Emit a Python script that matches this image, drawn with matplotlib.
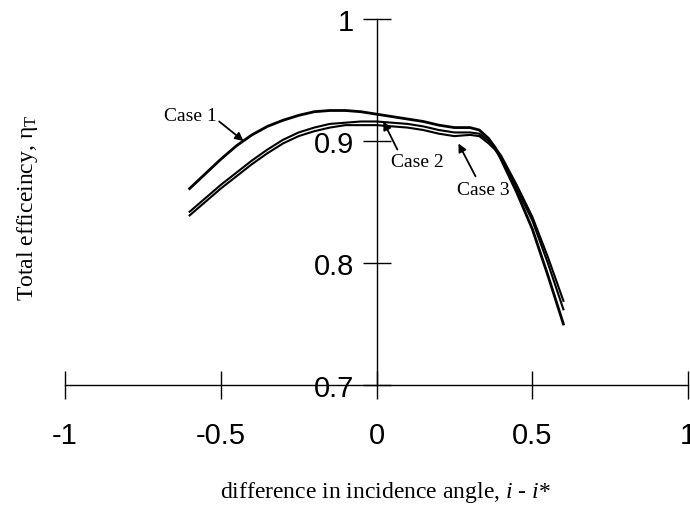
import matplotlib
matplotlib.use("Agg")
import matplotlib.pyplot as plt

# incidence-angle difference (i - i*) and total efficiency for each case
angle = [-0.6, -0.55, -0.5, -0.45, -0.4, -0.35, -0.3, -0.25, -0.2, -0.15,
         -0.1, -0.05, 0.0, 0.05, 0.1, 0.15, 0.2, 0.25, 0.3, 0.33, 0.36,
         0.38, 0.4, 0.45, 0.5, 0.55, 0.6]
case1 = [0.861, 0.873, 0.885, 0.896, 0.905, 0.912, 0.917, 0.921, 0.924,
         0.925, 0.925, 0.924, 0.922, 0.920, 0.918, 0.916, 0.913, 0.911,
         0.911, 0.909, 0.902, 0.895, 0.885, 0.858, 0.828, 0.790, 0.750]
case2 = [0.842, 0.853, 0.864, 0.874, 0.884, 0.893, 0.901, 0.907, 0.911,
         0.914, 0.915, 0.916, 0.916, 0.915, 0.914, 0.912, 0.909, 0.907,
         0.907, 0.906, 0.900, 0.895, 0.888, 0.864, 0.838, 0.805, 0.769]
case3 = [0.839, 0.850, 0.861, 0.871, 0.881, 0.890, 0.898, 0.904, 0.908,
         0.911, 0.913, 0.913, 0.913, 0.912, 0.911, 0.909, 0.906, 0.904,
         0.905, 0.904, 0.898, 0.893, 0.886, 0.861, 0.835, 0.800, 0.762]

x_ticks = [-1, -0.5, 0, 0.5, 1]
x_tick_labels = ["-1", "-0.5", "0", "0.5", "1"]
y_ticks = [0.7, 0.8, 0.9, 1.0]
y_tick_labels = ["0.7", "0.8", "0.9", "1"]

plt.rcParams["mathtext.fontset"] = "custom"
plt.rcParams["mathtext.rm"] = "Liberation Serif"
plt.rcParams["mathtext.it"] = "Liberation Serif:italic"

sans = ["Liberation Sans", "DejaVu Sans"]
serif = ["Liberation Serif", "DejaVu Serif"]

fig = plt.figure(figsize=(6.9, 5.1), dpi=100)
ax = fig.add_axes([65 / 690, 1 - 386 / 510, 623 / 690, 366 / 510])
ax.set_xlim(-1, 1)
ax.set_ylim(0.7, 1.0)

ax.plot(angle, case1, color="black", lw=2.0, solid_joinstyle="round")
ax.plot(angle, case2, color="black", lw=1.5, solid_joinstyle="round")
ax.plot(angle, case3, color="black", lw=1.5, solid_joinstyle="round")

# axes crossing at (0, 0.7)
for side in ("top", "right"):
    ax.spines[side].set_visible(False)
ax.spines["left"].set_position(("data", 0))
ax.spines["bottom"].set_position(("data", 0.7))
for side in ("left", "bottom"):
    ax.spines[side].set_linewidth(1.0)
    ax.spines[side].set_clip_on(False)

ax.set_xticks(x_ticks)
ax.set_xticklabels(x_tick_labels, family=sans, fontsize=21)
ax.set_yticks(y_ticks)
ax.set_yticklabels(y_tick_labels, family=sans, fontsize=21)
ax.tick_params(axis="x", direction="inout", length=20, width=1.0, pad=16)
ax.tick_params(axis="y", direction="inout", length=20, width=1.0, pad=6)
for t in ax.get_xticklines() + ax.get_yticklines():
    t.set_clip_on(False)

fig.text(385 / 690, 1 - 493 / 510,
         r"difference in incidence angle, $\mathit{i}$ - $\mathit{i}$*",
         family=serif, fontsize=17, ha="center", va="center")
fig.text(28 / 690, 1 - 208 / 510, r"Total efficeincy, $\mathregular{\eta_T}$",
         family=serif, fontsize=17, ha="center", va="center", rotation=90)

# case labels with arrows pointing at their curves
label_kw = dict(family=serif, fontsize=14, ha="center", va="center")
arrow = dict(arrowstyle="-|>", color="black", lw=1.3, mutation_scale=12,
             shrinkA=0, shrinkB=0)
ax.text(-0.597, 0.921, "Case 1", **label_kw)
ax.annotate("", xy=(-0.427, 0.900), xytext=(-0.505, 0.916), arrowprops=arrow)
ax.text(0.132, 0.883, "Case 2", **label_kw)
ax.annotate("", xy=(0.022, 0.916), xytext=(0.067, 0.893), arrowprops=arrow)
ax.text(0.342, 0.860, "Case 3", **label_kw)
ax.annotate("", xy=(0.263, 0.898), xytext=(0.318, 0.871), arrowprops=arrow)

fig.savefig("out.png", dpi=100)
